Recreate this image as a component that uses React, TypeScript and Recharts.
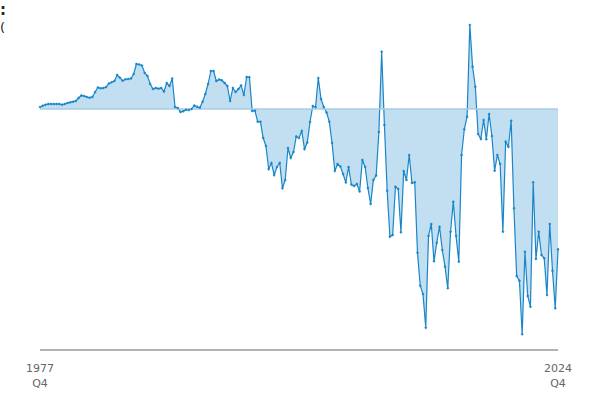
import React from "react";
import {
  AreaChart,
  Area,
  XAxis,
  YAxis,
  ReferenceLine,
} from "recharts";

// Quarterly values, 1977 Q4 .. 2024 Q4
const VALUES: number[] = [
  2, 3.3, 4.3, 5, 5, 5, 5, 5, 4.3, 5,
  6, 6.7, 7.3, 8, 11, 13.5, 13, 12, 11.3, 12,
  17, 21.5, 20.7, 21, 22, 25.5, 26.7, 28, 34, 31.3,
  28.3, 29.7, 30, 30.5, 35, 45, 44.5, 43.5, 36, 33,
  25, 20, 21, 20.3, 21, 17.5, 26, 23, 30.5, 2,
  1, -3, -2.3, -0.7, -1, 0, 3.5, 2.3, 1.3, 7.3,
  15, 25, 38, 38, 28, 29.5, 28.7, 26, 23, 8,
  21, 17, 20, 23.5, 14, 32, 31.7, -2, -1.7, -12.7,
  -12.7, -29, -37, -60, -54, -66, -58, -54, -79.3, -71,
  -39, -49, -43, -27.5, -29, -22, -40, -33.5, -13, 3,
  2, 31, 10, 2, -3.5, -12.7, -34, -62, -55, -57.5,
  -65, -73.5, -58, -75.5, -77, -75, -82.5, -51, -58, -79,
  -95, -71, -66.5, -23, 57.3, -16, -81.7, -127.7, -126, -77.7,
  -80, -123.3, -62, -71, -46, -74, -73.3, -143.7, -176.7, -185,
  -218.7, -127, -115, -152.3, -133.7, -117.7, -141, -157.7, -179.3, -122.7,
  -92.7, -127, -152.7, -46, -20.3, -7.7, 84, 42.3, 22.3, -25,
  -30, -11, -30.3, -5, -27, -61.7, -46, -55, -122.7, -32.7,
  -37.7, -11.7, -99.3, -167, -171.7, -225.3, -142.7, -187, -197.7, -73.3,
  -150, -122.7, -146, -149.3, -186, -115, -161.7, -199.3, -140.3,
];

const FIRST_YEAR = 1977;
const FIRST_QUARTER = 4;

const LINE_COLOR = "#1a86c8";
const FILL_COLOR = "#c2dff1";

const data = VALUES.map((v, i) => {
  const q = FIRST_QUARTER - 1 + i;
  const year = FIRST_YEAR + Math.floor(q / 4);
  const quarter = (q % 4) + 1;
  return { period: `${year} Q${quarter}`, value: v };
});

const firstLabel = data[0].period;
const lastLabel = data[data.length - 1].period;

// Two-line tick: year on top, quarter below
const PeriodTick = (props: any) => {
  const { x, y, payload } = props;
  const [year, quarter] = String(payload.value).split(" ");
  return (
    <g transform={`translate(${x},${y})`}>
      <text x={0} y={0} dy={14} textAnchor="middle" fill="#666" fontSize={11}>
        {year}
      </text>
      <text x={0} y={0} dy={29} textAnchor="middle" fill="#666" fontSize={11}>
        {quarter}
      </text>
    </g>
  );
};

export default function App() {
  return (
    <div
      style={{
        position: "relative",
        width: 600,
        height: 400,
        background: "#fff",
        fontFamily: "'DejaVu Sans', sans-serif",
      }}
    >
      <style>{`body { margin: 0; }`}</style>
      <div style={{ position: "absolute", left: 0, top: 1, fontSize: 15, fontWeight: 700, color: "#222" }}>
        :
      </div>
      <div style={{ position: "absolute", left: 0, top: 20, fontSize: 13, color: "#222" }}>
        (
      </div>
      <AreaChart
        width={600}
        height={400}
        data={data}
        margin={{ top: 19, right: 42, left: 40, bottom: 0 }}
      >
        <XAxis
          dataKey="period"
          ticks={[firstLabel, lastLabel]}
          interval={0}
          tick={<PeriodTick />}
          tickLine={false}
          axisLine={{ stroke: "#666" }}
          height={50}
        />
        <YAxis hide domain={[-241, 90]} />
        <ReferenceLine y={0} stroke="#a9cde3" strokeWidth={1.5} />
        <Area
          type="linear"
          dataKey="value"
          baseValue={0}
          stroke={LINE_COLOR}
          strokeWidth={1.2}
          fill={FILL_COLOR}
          fillOpacity={1}
          dot={{ r: 1, fill: LINE_COLOR, stroke: LINE_COLOR, strokeWidth: 0.5 }}
          activeDot={false}
          isAnimationActive={false}
        />
      </AreaChart>
    </div>
  );
}
